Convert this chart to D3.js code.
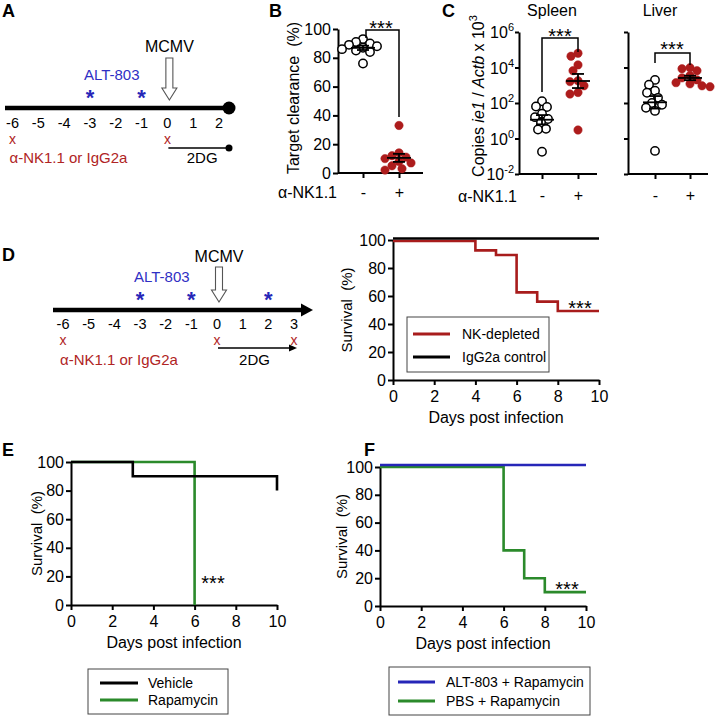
<!DOCTYPE html>
<html><head><meta charset="utf-8">
<script src="https://cdn.jsdelivr.net/npm/d3@7"></script>
<style>body{margin:0;background:#fff}svg{display:block}</style>
</head><body><svg id="c" width="715" height="717"></svg>
<script>
// ================= DATA =================
// Timelines (days)
const timelineA_days = [-6,-5,-4,-3,-2,-1,0,1,2];
const timelineA_alt803 = [-3,-1];
const timelineA_antibody = [-6,0];
const timelineD_days = [-6,-5,-4,-3,-2,-1,0,1,2,3];
const timelineD_alt803 = [-3,-1,2];
const timelineD_antibody = [-6,0,3];

// Panel B: target clearance (%)
const nkGroups = ["-","+"];
const clearanceCtrl = [93,91,90,89,88,87,86,85,84,76];
const clearanceNK = [33,14,12,11,10,8,7,5,3,2];
const clearanceTicks = [0,20,40,60,80,100];

// Panel C: copies ie1 / Actb x 10^3
const spleenCtrl = [126,63,60,25,16,12.5,8,3.5,3.2,0.18];
const spleenNK = [43000,63000,14000,6600,1600,1800,930,390,320,3];
const liverCtrl = [2000,1070,490,380,195,100,80,54,36,0.2];
const liverNK = [8500,9800,3500,6600,2600,1400,930,1200,830,2000];
const logTickExps = [-2,0,2,4,6];

// Survival (%)
const dayTicks = [0,2,4,6,8,10];
const survTicks = [0,20,40,60,80,100];
const D_nkDays = [0,4,5,6,7,8,10];
const D_nkSurv = [100,93.3,90,63.3,56.7,50,50];
const D_ctrlDays = [0,10];
const D_ctrlSurv = [100,100];
const E_vehDays = [0,3,10];
const E_vehSurv = [100,90,80];
const E_rapaDays = [0,6];
const E_rapaSurv = [100,0];
const F_altDays = [0,10];
const F_altSurv = [100,100];
const F_pbsDays = [0,6,7,8,10];
const F_pbsSurv = [100,40,20,10,10];

// ================= STYLE =================
const FONT = '"Liberation Sans", Arial, Helvetica, sans-serif';
const RED = "#ad1c1c", TXTRED = "#b02424", BLUE = "#2626b8", TXTBLUE = "#2f2fc4",
      GREEN = "#2b8a2b", LINERED = "#a81c1c";

const svg = d3.select("#c").attr("font-family", FONT);

function T(x, y, s, o = {}) {
  const t = svg.append("text").attr("x", x).attr("y", y).text(s)
    .attr("font-size", o.size || 16).attr("fill", o.fill || "#000")
    .attr("text-anchor", o.anchor || "start");
  if (o.weight) t.attr("font-weight", o.weight);
  if (o.rotate) t.attr("transform", `rotate(-90,${x},${y})`);
  return t;
}
function styleAxis(g, size = 16) {
  g.attr("font-size", size).attr("font-family", FONT).attr("color", "#000");
  g.selectAll("path,line").attr("stroke-width", 2);
  g.selectAll("text").attr("fill", "#000");
}

// ================= PANEL LABELS =================
[["A",2,17],["B",269,17],["C",442,17],["D",2,261],["E",2,456],["F",364,456]]
  .forEach(([s,x,y]) => T(x, y, s, {size: 18, weight: "bold"}));

// ================= TIMELINES =================
function hollowArrow(cx, top, tip) {
  const hb = tip - 12;
  svg.append("path")
    .attr("d", `M${cx-3.5},${top}H${cx+3.5}V${hb}H${cx+7.5}L${cx},${tip}L${cx-7.5},${hb}H${cx-3.5}Z`)
    .attr("fill", "#fff").attr("stroke", "#555").attr("stroke-width", 1.1);
}
function timeline(cfg) {
  const x = d3.scaleLinear().domain(d3.extent(cfg.days)).range(cfg.range);
  const y = cfg.y;
  svg.append("line").attr("x1", cfg.lineStart).attr("x2", cfg.lineEnd)
    .attr("y1", y).attr("y2", y).attr("stroke", "#000").attr("stroke-width", 4.5);
  if (cfg.endDot) {
    svg.append("circle").attr("cx", cfg.lineEnd).attr("cy", y).attr("r", 6.5).attr("fill", "#000");
  } else {
    svg.append("path").attr("d", `M${cfg.lineEnd-1},${y-6.5}L${cfg.lineEnd+11},${y}L${cfg.lineEnd-1},${y+6.5}Z`).attr("fill", "#000");
  }
  cfg.days.forEach(d => T(x(d), y + cfg.numDy, d, {size: 14.5, anchor: "middle"}));
  T(x(cfg.alt[0]) - 6, y - 28, "ALT-803", {size: 15, fill: TXTBLUE});
  cfg.alt.forEach(d => T(x(d), y - 3, "*", {size: 22, weight: "bold", fill: BLUE, anchor: "middle"}));
  T(x(0) + 2, y - cfg.mcmvDy, "MCMV", {size: 16, anchor: "middle"});
  hollowArrow(x(0) + 2, y - cfg.arrowTop, y - 8);
  cfg.ab.forEach(d => T(x(d), y + cfg.xDy, "x", {size: 14, fill: TXTRED, anchor: "middle"}));
  T(x(cfg.days[0]) - 3, y + 55, "\u03b1-NK1.1 or IgG2a", {size: 15, fill: TXTRED});
  const ly = y + cfg.dgDy;
  const x2 = cfg.dgEnd(x);
  svg.append("line").attr("x1", x(0) + 1).attr("x2", x2 - (cfg.endDot ? 0 : 4))
    .attr("y1", ly).attr("y2", ly).attr("stroke", "#000").attr("stroke-width", 1.6);
  if (cfg.endDot) svg.append("circle").attr("cx", x2).attr("cy", ly).attr("r", 3.5).attr("fill", "#000");
  else svg.append("path").attr("d", `M${x2-7},${ly-3.5}L${x2+1},${ly}L${x2-7},${ly+3.5}Z`).attr("fill", "#000");
  T((x(0) + x2) / 2 + cfg.dgTextOff, y + 55, "2DG", {size: 15, anchor: "middle"});
}
timeline({days: timelineA_days, alt: timelineA_alt803, ab: timelineA_antibody,
  range: [12.5, 219], y: 108, lineStart: 5, lineEnd: 229, endDot: true,
  numDy: 20, xDy: 36, dgDy: 40, mcmvDy: 56, arrowTop: 50, dgTextOff: 4,
  dgEnd: x => 229});
timeline({days: timelineD_days, alt: timelineD_alt803, ab: timelineD_antibody,
  range: [63, 294], y: 310, lineStart: 53, lineEnd: 302, endDot: false,
  numDy: 19, xDy: 35, dgDy: 38, mcmvDy: 48, arrowTop: 43, dgTextOff: -2,
  dgEnd: x => x(3) + 2});

// ================= SCATTER (B, C) =================
function swarm(vals, yS, cx, r) {
  const pts = vals.map(v => ({v, y: yS(v)})).sort((a, b) => a.y - b.y);
  const placed = [];
  pts.forEach(p => {
    let px = cx;
    for (let k = 0; k < 80; k++) {
      const off = (k % 2 === 0 ? 1 : -1) * Math.ceil(k / 2);
      const xx = cx + off;
      if (placed.every(q => Math.hypot(q.x - xx, q.y - p.y) >= 2 * r * 0.9)) { px = xx; break; }
    }
    p.x = px; placed.push(p);
  });
  return placed;
}
function meanSem(vals, tf) {
  const t = vals.map(tf);
  const m = d3.mean(t), s = d3.deviation(t) / Math.sqrt(t.length);
  return [m, s];
}
function dots(vals, yS, cx, filled) {
  const r = 4.2;
  svg.append("g").selectAll("circle").data(swarm(vals, yS, cx, r)).join("circle")
    .attr("cx", d => d.x).attr("cy", d => d.y).attr("r", r)
    .attr("fill", filled ? RED : "#fff").attr("stroke", filled ? RED : "#000")
    .attr("stroke-width", filled ? 0.5 : 1.5);
}
function meanBar(vals, yS, cx, tf, inv) {
  const [m, s] = meanSem(vals, tf);
  const ym = yS(inv(m)), yl = yS(inv(m - s)), yh = yS(inv(m + s));
  const g = svg.append("g").attr("stroke", "#000").attr("stroke-width", 1.8).attr("fill", "none");
  g.append("line").attr("x1", cx - 12).attr("x2", cx + 12).attr("y1", ym).attr("y2", ym);
  g.append("line").attr("x1", cx).attr("x2", cx).attr("y1", yl).attr("y2", yh);
  g.append("line").attr("x1", cx - 6).attr("x2", cx + 6).attr("y1", yl).attr("y2", yl);
  g.append("line").attr("x1", cx - 6).attr("x2", cx + 6).attr("y1", yh).attr("y2", yh);
}
function bracket(xl, xr, top, yl, yr, sx, sy) {
  svg.append("path").attr("d", `M${xl},${yl}V${top}H${xr}V${yr}`)
    .attr("fill", "none").attr("stroke", "#000").attr("stroke-width", 1.5);
  T(sx, sy, "***", {size: 20, anchor: "middle"});
}
function catAxis(xS, y, x0, x1, pad) {
  const g = svg.append("g").attr("transform", `translate(0,${y})`)
    .call(d3.axisBottom(xS).tickSize(5).tickSizeOuter(0).tickPadding(pad));
  g.select(".domain").attr("d", `M${x0},0H${x1}`);
  styleAxis(g);
  return g;
}

// ---- Panel B ----
{
  const y = d3.scaleLinear().domain([0, 100]).range([173, 29]);
  const x = d3.scalePoint().domain(nkGroups).range([363, 399]);
  const gy = svg.append("g").attr("transform", "translate(338,0)")
    .call(d3.axisLeft(y).tickValues(clearanceTicks).tickSize(5).tickSizeOuter(0).tickPadding(2));
  styleAxis(gy);
  catAxis(x, 173, 338, 423, 9);
  T(337, 198, "\u03b1-NK1.1", {size: 16, anchor: "end"});
  T(299, 98, "Target clearance\u00a0 (%)", {size: 16, anchor: "middle", rotate: true});
  dots(clearanceCtrl, y, x("-"), false);
  dots(clearanceNK, y, x("+"), true);
  meanBar(clearanceCtrl, y, x("-"), v => v, v => v);
  meanBar(clearanceNK, y, x("+"), v => v, v => v);
  bracket(366, 399, 30, 38, 117, 381, 35);
}

// ---- Panel C ----
{
  const y = d3.scaleLog().domain([1e-2, 1e6]).range([174, 32]);
  const tickVals = logTickExps.map(e => Math.pow(10, e));
  const lg = v => Math.log10(v), ex = v => Math.pow(10, v);
  const xs = d3.scalePoint().domain(nkGroups).range([542, 578]);
  const gy = svg.append("g").attr("transform", "translate(519,0)")
    .call(d3.axisLeft(y).tickValues(tickVals).tickFormat("").tickSize(4).tickSizeOuter(0));
  styleAxis(gy);
  logTickExps.forEach(e => {
    const t = T(514, y(Math.pow(10, e)) + 6, "10", {size: 16, anchor: "end"});
    t.append("tspan").attr("dy", -7).attr("font-size", 11).text(e);
  });
  catAxis(xs, 174, 519, 597, 11);
  T(517, 202, "\u03b1-NK1.1", {size: 16, anchor: "end"});
  T(552, 16, "Spleen", {size: 16, anchor: "middle"});
  const yl = T(484, 96, "Copies ", {size: 16, anchor: "middle", rotate: true});
  yl.append("tspan").attr("font-style", "italic").text("ie1");
  yl.append("tspan").text(" / ");
  yl.append("tspan").attr("font-style", "italic").text("Actb");
  yl.append("tspan").text(" x 10");
  yl.append("tspan").attr("dy", -7).attr("font-size", 11).text("3");
  dots(spleenCtrl, y, xs("-"), false);
  dots(spleenNK, y, xs("+"), true);
  meanBar(spleenCtrl, y, xs("-"), lg, ex);
  meanBar(spleenNK, y, xs("+"), lg, ex);
  bracket(542, 578, 38, 92, 52, 560, 43);

  const xl = d3.scalePoint().domain(nkGroups).range([655, 690]);
  const gy2 = svg.append("g").attr("transform", "translate(628,0)")
    .call(d3.axisLeft(y).tickValues(tickVals).tickFormat("").tickSize(4).tickSizeOuter(0));
  styleAxis(gy2);
  catAxis(xl, 174, 628, 708, 11);
  T(660, 16, "Liver", {size: 16, anchor: "middle"});
  dots(liverCtrl, y, xl("-"), false);
  dots(liverNK, y, xl("+"), true);
  meanBar(liverCtrl, y, xl("-"), lg, ex);
  meanBar(liverNK, y, xl("+"), lg, ex);
  bracket(655, 690, 53, 63, 65, 672, 56);
}

// ================= SURVIVAL =================
function survival(cfg) {
  const x = d3.scaleLinear().domain([0, 10]).range([cfg.x0, cfg.x1]);
  const y = d3.scaleLinear().domain([0, 100]).range([cfg.y0, cfg.y1]);
  const gx = svg.append("g").attr("transform", `translate(0,${cfg.y0})`)
    .call(d3.axisBottom(x).tickValues(dayTicks).tickSize(5).tickSizeOuter(0).tickPadding(6));
  styleAxis(gx);
  const gy = svg.append("g").attr("transform", `translate(${cfg.x0},0)`)
    .call(d3.axisLeft(y).tickValues(survTicks).tickSize(5).tickSizeOuter(0).tickPadding(2));
  styleAxis(gy);
  T((cfg.x0 + cfg.x1) / 2, cfg.y0 + 43, "Days post infection", {size: 16, anchor: "middle"});
  T(cfg.labX, (cfg.y0 + cfg.y1) / 2, "Survival\u00a0 (%)", {size: 15, anchor: "middle", rotate: true});
  cfg.series.forEach(s => {
    const pts = s.days.map((d, i) => [d, s.surv[i]]);
    svg.append("path").datum(pts)
      .attr("d", d3.line().x(d => x(d[0])).y(d => y(d[1]) + (s.off || 0)).curve(d3.curveStepAfter))
      .attr("fill", "none").attr("stroke", s.color).attr("stroke-width", 2.6);
  });
  T(cfg.star[0], cfg.star[1], "***", {size: 20, anchor: "middle"});
  const L = cfg.legend;
  svg.append("rect").attr("x", L.x).attr("y", L.y).attr("width", L.w).attr("height", L.h)
    .attr("fill", "#fff").attr("stroke", "#444").attr("stroke-width", 1);
  L.items.forEach((it, i) => {
    const yy = L.y + L.first + i * L.gap;
    svg.append("line").attr("x1", L.x + L.lx0).attr("x2", L.x + L.lx1).attr("y1", yy).attr("y2", yy)
      .attr("stroke", it.color).attr("stroke-width", 3);
    T(L.x + L.tx, yy + 5, it.label, {size: 14});
  });
}
survival({x0: 393, x1: 599, y0: 380, y1: 240, labX: 352, star: [580, 315],
  series: [
    {days: D_nkDays, surv: D_nkSurv, color: LINERED, off: 1},
    {days: D_ctrlDays, surv: D_ctrlSurv, color: "#000", off: -1.5}],
  legend: {x: 407, y: 317, w: 142, h: 55, first: 17, gap: 23, lx0: 6, lx1: 43, tx: 55,
    items: [{label: "NK-depleted", color: LINERED}, {label: "IgG2a control", color: "#000"}]}});
survival({x0: 71, x1: 277, y0: 605, y1: 462, labX: 42, star: [213, 590],
  series: [
    {days: E_rapaDays, surv: E_rapaSurv, color: GREEN},
    {days: E_vehDays, surv: E_vehSurv, color: "#000"}],
  legend: {x: 88, y: 669, w: 140, h: 45, first: 14, gap: 17, lx0: 12, lx1: 50, tx: 60,
    items: [{label: "Vehicle", color: "#000"}, {label: "Rapamycin", color: GREEN}]}});
survival({x0: 380, x1: 586, y0: 606, y1: 467, labX: 347, star: [567, 596],
  series: [
    {days: F_pbsDays, surv: F_pbsSurv, color: GREEN},
    {days: F_altDays, surv: F_altSurv, color: BLUE, off: -2}],
  legend: {x: 389, y: 667, w: 201, h: 48, first: 15, gap: 19, lx0: 9, lx1: 46, tx: 57,
    items: [{label: "ALT-803 + Rapamycin", color: BLUE}, {label: "PBS + Rapamycin", color: GREEN}]}});
</script></body></html>
